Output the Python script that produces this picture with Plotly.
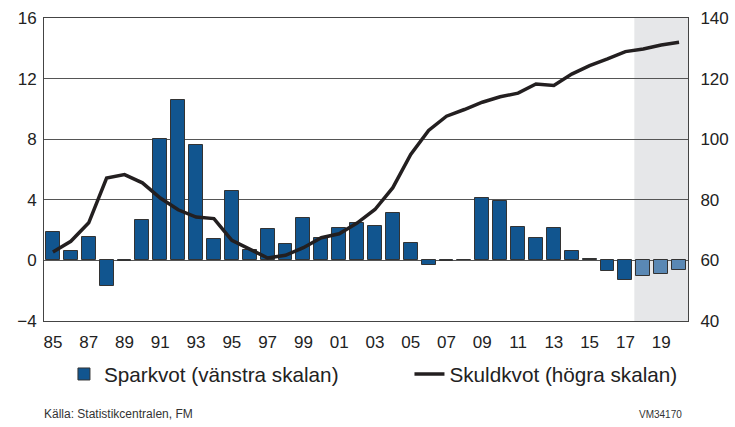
import plotly.graph_objects as go

years = list(range(1985, 2021))
sparkvot = [1.9, 0.65, 1.55, -1.7, -0.05, 2.7, 8.0, 10.6, 7.65, 1.4, 4.6,
            0.7, 2.05, 1.05, 2.8, 1.5, 2.15, 2.5, 2.3, 3.1, 1.15,
            -0.33, -0.07, 0.04, 4.15, 3.92, 2.2, 1.5, 2.15, 0.6, 0.1,
            -0.73, -1.3, -1.05, -0.92, -0.62]
skuldkvot = [62.8, 66.3, 72.4, 87.2, 88.3, 85.6, 80.6, 76.7, 74.3, 73.8, 66.6,
             63.6, 60.8, 61.7, 64.2, 67.5, 68.8, 72.3, 76.8, 84.0, 95.0,
             102.9, 107.6, 109.8, 112.2, 114.0, 115.2, 118.2, 117.7, 121.5, 124.3,
             126.5, 128.9, 129.8, 131.1, 132.0]
forecast_start = 2018
tick_years = list(range(1985, 2020, 2))
tick_text = [f"{y % 100:02d}" for y in tick_years]

bar_colors = ["#5a88b4" if y >= forecast_start else "#11558f" for y in years]

fig = go.Figure()
fig.add_trace(go.Bar(
    x=years, y=sparkvot, name="Sparkvot (vänstra skalan)",
    marker=dict(color=bar_colors, line=dict(color="#333333", width=1)),
    width=0.78, yaxis="y", legend="legend",
))
fig.add_trace(go.Scatter(
    x=years, y=skuldkvot, name="Skuldkvot (högra skalan)",
    mode="lines", line=dict(color="#231f20", width=3.5), yaxis="y2", legend="legend2",
))

fig.add_shape(type="rect", xref="x", yref="paper", x0=forecast_start - 0.5, x1=2020.5,
              y0=0, y1=1, fillcolor="#e6e7e9", line=dict(width=0), layer="below")

font = "Liberation Sans, Arial, sans-serif"
legend_common = dict(orientation="h", xanchor="left", y=-0.175, yanchor="middle",
                     font=dict(size=20.7, color="#222222"), bgcolor="rgba(0,0,0,0)")
fig.update_layout(
    width=735, height=427,
    margin=dict(l=44, r=47, t=18, b=106, autoexpand=False),
    plot_bgcolor="white", paper_bgcolor="white",
    font=dict(family=font, size=17, color="#222222"),
    bargap=0,
    showlegend=True,
    legend=dict(x=0.031, **legend_common),
    legend2=dict(x=0.5675, **legend_common),
    xaxis=dict(range=[1984.5, 2020.5], tickvals=tick_years, ticktext=tick_text,
               showgrid=False, zeroline=False, showline=True, linecolor="#444444",
               linewidth=1, mirror=True, ticks="outside", ticklen=6, automargin=False,
               tickcolor="rgba(0,0,0,0)", tickfont=dict(size=17)),
    yaxis=dict(range=[-4, 16], tickvals=[-4, 0, 4, 8, 12, 16], showgrid=True,
               gridcolor="#555555", gridwidth=1, zeroline=False, showline=True,
               linecolor="#444444", linewidth=1, ticks="outside", ticklen=3,
               automargin=False, tickcolor="rgba(0,0,0,0)", tickfont=dict(size=17)),
    yaxis2=dict(range=[40, 140], tickvals=[40, 60, 80, 100, 120, 140], overlaying="y",
                side="right", showgrid=False, zeroline=False, showline=True,
                linecolor="#444444", linewidth=1, ticks="outside", ticklen=8,
                automargin=False, tickcolor="rgba(0,0,0,0)", tickfont=dict(size=17)),
    annotations=[
        dict(text="Källa: Statistikcentralen, FM", xref="paper", yref="paper",
             x=-0.003, y=-0.307, xanchor="left", yanchor="middle", showarrow=False,
             font=dict(size=12, color="#333333")),
        dict(text="VM34170", xref="paper", yref="paper", x=0.994, y=-0.307,
             xanchor="right", yanchor="middle", showarrow=False,
             font=dict(size=10, color="#333333")),
    ],
)

fig.write_html("out.html", config={"displayModeBar": False},
               post_script="document.body.style.margin='0';")
